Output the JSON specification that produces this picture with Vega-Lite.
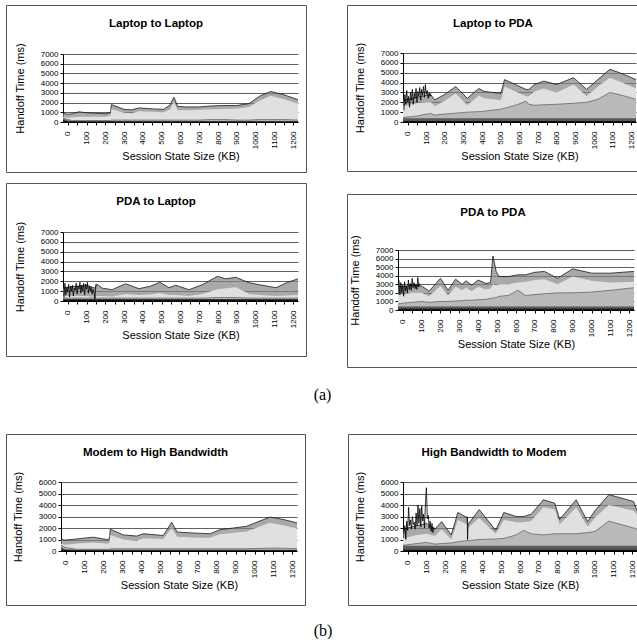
{
  "$schema": "https://vega.github.io/schema/vega-lite/v6.json",
  "padding": {"left": 5, "top": 4, "right": 0, "bottom": 0},
  "background": "white",
  "config": {
    "font": "Liberation Sans",
    "view": {"stroke": "#555", "strokeWidth": 1},
    "axis": {"labelFont": "Liberation Sans", "labelFontSize": 8, "labelColor": "#000", "titleFont": "Liberation Sans", "titleFontSize": 11, "titleFontWeight": "normal", "titleColor": "#000", "domainColor": "#000", "tickColor": "#000", "tickSize": 3, "labelPadding": 2, "gridColor": "#606060", "gridWidth": 1, "labelFlush": false, "labelOverlap": false},
    "axisX": {"labelAngle": 270, "labelPadding": 6, "titlePadding": 2, "grid": false},
    "axisY": {"titlePadding": 15, "grid": true},
    "title": {"font": "Liberation Sans", "fontSize": 11.5, "fontWeight": "bold", "color": "#000", "offset": -24, "baseline": "alphabetic", "anchor": "middle"}
  },
  "datasets": {
    "p1": [
      {"x": -25, "top": 900, "stip": 550, "cross": 450, "hatch": 350, "base": 150},
      {"x": 0, "top": 800, "stip": 450, "cross": 250, "hatch": 150, "base": 80},
      {"x": 25, "top": 850, "stip": 500, "cross": 150, "hatch": 100, "base": 60},
      {"x": 60, "top": 1050, "stip": 550, "cross": 150, "hatch": 100, "base": 60},
      {"x": 100, "top": 950, "stip": 550, "cross": 150, "hatch": 100, "base": 60},
      {"x": 150, "top": 900, "stip": 550, "cross": 150, "hatch": 100, "base": 60},
      {"x": 200, "top": 850, "stip": 550, "cross": 150, "hatch": 100, "base": 60},
      {"x": 228, "top": 950, "stip": 650, "cross": 150, "hatch": 100, "base": 60},
      {"x": 232, "top": 1800, "stip": 1350, "cross": 200, "hatch": 100, "base": 60},
      {"x": 300, "top": 1300, "stip": 950, "cross": 200, "hatch": 100, "base": 60},
      {"x": 340, "top": 1250, "stip": 900, "cross": 200, "hatch": 100, "base": 60},
      {"x": 380, "top": 1450, "stip": 1100, "cross": 200, "hatch": 100, "base": 60},
      {"x": 450, "top": 1350, "stip": 1050, "cross": 200, "hatch": 100, "base": 60},
      {"x": 510, "top": 1300, "stip": 1000, "cross": 200, "hatch": 100, "base": 60},
      {"x": 545, "top": 1750, "stip": 1300, "cross": 200, "hatch": 100, "base": 60},
      {"x": 565, "top": 2550, "stip": 2050, "cross": 200, "hatch": 100, "base": 60},
      {"x": 585, "top": 1600, "stip": 1200, "cross": 200, "hatch": 100, "base": 60},
      {"x": 630, "top": 1550, "stip": 1200, "cross": 200, "hatch": 100, "base": 60},
      {"x": 700, "top": 1550, "stip": 1250, "cross": 200, "hatch": 100, "base": 60},
      {"x": 760, "top": 1650, "stip": 1300, "cross": 250, "hatch": 100, "base": 60},
      {"x": 830, "top": 1700, "stip": 1350, "cross": 250, "hatch": 100, "base": 60},
      {"x": 900, "top": 1700, "stip": 1400, "cross": 200, "hatch": 100, "base": 60},
      {"x": 965, "top": 1900, "stip": 1550, "cross": 200, "hatch": 100, "base": 60},
      {"x": 1020, "top": 2650, "stip": 2200, "cross": 250, "hatch": 100, "base": 60},
      {"x": 1080, "top": 3150, "stip": 2700, "cross": 250, "hatch": 100, "base": 60},
      {"x": 1150, "top": 2800, "stip": 2350, "cross": 250, "hatch": 100, "base": 60},
      {"x": 1225, "top": 2300, "stip": 1900, "cross": 200, "hatch": 100, "base": 60}
    ],
    "p2": [
      {"x": -25, "top": 2200, "stip": 1600, "cross": 450, "hatch": 350, "base": 100},
      {"x": 0, "top": 2300, "stip": 1700, "cross": 500, "hatch": 380, "base": 100},
      {"x": 50, "top": 2500, "stip": 1900, "cross": 600, "hatch": 380, "base": 100},
      {"x": 100, "top": 2700, "stip": 2000, "cross": 800, "hatch": 380, "base": 100},
      {"x": 125, "top": 2750, "stip": 2000, "cross": 850, "hatch": 380, "base": 100},
      {"x": 145, "top": 2250, "stip": 1600, "cross": 700, "hatch": 380, "base": 100},
      {"x": 195, "top": 2750, "stip": 2100, "cross": 800, "hatch": 380, "base": 100},
      {"x": 258, "top": 3600, "stip": 2900, "cross": 900, "hatch": 380, "base": 100},
      {"x": 320, "top": 2400, "stip": 1700, "cross": 1000, "hatch": 380, "base": 100},
      {"x": 382, "top": 3400, "stip": 2700, "cross": 1050, "hatch": 380, "base": 100},
      {"x": 410, "top": 3100, "stip": 2400, "cross": 1100, "hatch": 380, "base": 100},
      {"x": 500, "top": 2900, "stip": 2200, "cross": 1300, "hatch": 380, "base": 100},
      {"x": 520, "top": 4300, "stip": 3600, "cross": 1400, "hatch": 380, "base": 100},
      {"x": 578, "top": 3800, "stip": 3100, "cross": 1700, "hatch": 380, "base": 100},
      {"x": 635, "top": 3300, "stip": 2600, "cross": 2100, "hatch": 380, "base": 100},
      {"x": 650, "top": 3300, "stip": 2600, "cross": 1800, "hatch": 380, "base": 100},
      {"x": 680, "top": 3800, "stip": 3100, "cross": 1700, "hatch": 380, "base": 100},
      {"x": 730, "top": 4150, "stip": 3400, "cross": 1750, "hatch": 380, "base": 100},
      {"x": 800, "top": 3800, "stip": 3000, "cross": 1800, "hatch": 380, "base": 100},
      {"x": 890, "top": 4500, "stip": 3800, "cross": 1900, "hatch": 380, "base": 100},
      {"x": 960, "top": 3300, "stip": 2600, "cross": 2000, "hatch": 380, "base": 100},
      {"x": 1020, "top": 4300, "stip": 3600, "cross": 2300, "hatch": 380, "base": 100},
      {"x": 1085, "top": 5350, "stip": 4500, "cross": 3000, "hatch": 380, "base": 100},
      {"x": 1150, "top": 4900, "stip": 4000, "cross": 2700, "hatch": 380, "base": 100},
      {"x": 1225, "top": 4300, "stip": 3400, "cross": 2300, "hatch": 380, "base": 100}
    ],
    "p3": [
      {"x": -25, "top": 1300, "stip": 500, "cross": 300, "hatch": 200, "base": 150},
      {"x": 0, "top": 1400, "stip": 500, "cross": 300, "hatch": 200, "base": 150},
      {"x": 50, "top": 1500, "stip": 500, "cross": 300, "hatch": 200, "base": 150},
      {"x": 100, "top": 1600, "stip": 500, "cross": 300, "hatch": 200, "base": 150},
      {"x": 145, "top": 1300, "stip": 400, "cross": 300, "hatch": 200, "base": 150},
      {"x": 155, "top": 1700, "stip": 500, "cross": 300, "hatch": 200, "base": 150},
      {"x": 185, "top": 1300, "stip": 500, "cross": 300, "hatch": 200, "base": 150},
      {"x": 236, "top": 1150, "stip": 450, "cross": 300, "hatch": 200, "base": 150},
      {"x": 308, "top": 1750, "stip": 700, "cross": 300, "hatch": 200, "base": 150},
      {"x": 379, "top": 1250, "stip": 600, "cross": 300, "hatch": 200, "base": 150},
      {"x": 440, "top": 1500, "stip": 650, "cross": 300, "hatch": 200, "base": 150},
      {"x": 490, "top": 1900, "stip": 800, "cross": 300, "hatch": 200, "base": 150},
      {"x": 539, "top": 1350, "stip": 600, "cross": 300, "hatch": 200, "base": 150},
      {"x": 574, "top": 1600, "stip": 600, "cross": 300, "hatch": 200, "base": 150},
      {"x": 645, "top": 1150, "stip": 500, "cross": 300, "hatch": 200, "base": 150},
      {"x": 716, "top": 1650, "stip": 700, "cross": 300, "hatch": 200, "base": 150},
      {"x": 796, "top": 2500, "stip": 1200, "cross": 350, "hatch": 200, "base": 150},
      {"x": 841, "top": 2250, "stip": 1300, "cross": 350, "hatch": 200, "base": 150},
      {"x": 894, "top": 2400, "stip": 1400, "cross": 350, "hatch": 200, "base": 150},
      {"x": 965, "top": 1850, "stip": 700, "cross": 300, "hatch": 200, "base": 150},
      {"x": 1019, "top": 1650, "stip": 600, "cross": 300, "hatch": 200, "base": 150},
      {"x": 1108, "top": 1350, "stip": 500, "cross": 300, "hatch": 200, "base": 150},
      {"x": 1170, "top": 1900, "stip": 550, "cross": 300, "hatch": 200, "base": 150},
      {"x": 1225, "top": 2250, "stip": 600, "cross": 300, "hatch": 200, "base": 150}
    ],
    "p4": [
      {"x": -25, "top": 2800, "stip": 1800, "cross": 700, "hatch": 400, "base": 150},
      {"x": 0, "top": 2700, "stip": 1800, "cross": 800, "hatch": 400, "base": 150},
      {"x": 50, "top": 2900, "stip": 2000, "cross": 900, "hatch": 400, "base": 150},
      {"x": 100, "top": 2800, "stip": 2000, "cross": 1000, "hatch": 400, "base": 150},
      {"x": 140, "top": 2200, "stip": 1600, "cross": 900, "hatch": 400, "base": 150},
      {"x": 200, "top": 3700, "stip": 2800, "cross": 1000, "hatch": 400, "base": 150},
      {"x": 240, "top": 2300, "stip": 1700, "cross": 1000, "hatch": 400, "base": 150},
      {"x": 280, "top": 3600, "stip": 2700, "cross": 1050, "hatch": 400, "base": 150},
      {"x": 315, "top": 3000, "stip": 2300, "cross": 1100, "hatch": 400, "base": 150},
      {"x": 335, "top": 3400, "stip": 2600, "cross": 1150, "hatch": 400, "base": 150},
      {"x": 365, "top": 2900, "stip": 2200, "cross": 1150, "hatch": 400, "base": 150},
      {"x": 400, "top": 3500, "stip": 2700, "cross": 1200, "hatch": 400, "base": 150},
      {"x": 440, "top": 3100, "stip": 2400, "cross": 1250, "hatch": 400, "base": 150},
      {"x": 465, "top": 3200, "stip": 2500, "cross": 1350, "hatch": 400, "base": 150},
      {"x": 478, "top": 6300, "stip": 3000, "cross": 1400, "hatch": 400, "base": 150},
      {"x": 495, "top": 4500, "stip": 2900, "cross": 1450, "hatch": 400, "base": 150},
      {"x": 510, "top": 3900, "stip": 3000, "cross": 1600, "hatch": 400, "base": 150},
      {"x": 560, "top": 3900, "stip": 3000, "cross": 1700, "hatch": 400, "base": 150},
      {"x": 610, "top": 4100, "stip": 3200, "cross": 2300, "hatch": 400, "base": 150},
      {"x": 650, "top": 4100, "stip": 3300, "cross": 1700, "hatch": 400, "base": 150},
      {"x": 700, "top": 4400, "stip": 3500, "cross": 1800, "hatch": 400, "base": 150},
      {"x": 750, "top": 4500, "stip": 3600, "cross": 1900, "hatch": 400, "base": 150},
      {"x": 820, "top": 3700, "stip": 3000, "cross": 2000, "hatch": 400, "base": 150},
      {"x": 900, "top": 4800, "stip": 3900, "cross": 2000, "hatch": 400, "base": 150},
      {"x": 1000, "top": 4300, "stip": 3400, "cross": 2100, "hatch": 400, "base": 150},
      {"x": 1100, "top": 4300, "stip": 3200, "cross": 2300, "hatch": 400, "base": 150},
      {"x": 1225, "top": 4500, "stip": 3300, "cross": 2600, "hatch": 400, "base": 150}
    ],
    "p5": [
      {"x": -25, "top": 1000, "stip": 600, "cross": 500, "hatch": 350, "base": 100},
      {"x": 0, "top": 950, "stip": 550, "cross": 300, "hatch": 150, "base": 80},
      {"x": 58, "top": 1050, "stip": 650, "cross": 150, "hatch": 100, "base": 60},
      {"x": 146, "top": 1200, "stip": 750, "cross": 150, "hatch": 100, "base": 60},
      {"x": 217, "top": 1000, "stip": 650, "cross": 150, "hatch": 100, "base": 60},
      {"x": 232, "top": 1050, "stip": 700, "cross": 150, "hatch": 100, "base": 60},
      {"x": 236, "top": 1900, "stip": 1400, "cross": 200, "hatch": 100, "base": 60},
      {"x": 305, "top": 1400, "stip": 1000, "cross": 200, "hatch": 100, "base": 60},
      {"x": 376, "top": 1300, "stip": 900, "cross": 200, "hatch": 100, "base": 60},
      {"x": 411, "top": 1500, "stip": 1100, "cross": 200, "hatch": 100, "base": 60},
      {"x": 517, "top": 1350, "stip": 1050, "cross": 200, "hatch": 100, "base": 60},
      {"x": 561, "top": 2500, "stip": 2000, "cross": 200, "hatch": 100, "base": 60},
      {"x": 590, "top": 1650, "stip": 1250, "cross": 200, "hatch": 100, "base": 60},
      {"x": 693, "top": 1550, "stip": 1150, "cross": 200, "hatch": 100, "base": 60},
      {"x": 764, "top": 1500, "stip": 1150, "cross": 200, "hatch": 100, "base": 60},
      {"x": 817, "top": 1850, "stip": 1450, "cross": 200, "hatch": 100, "base": 60},
      {"x": 958, "top": 2150, "stip": 1700, "cross": 200, "hatch": 100, "base": 60},
      {"x": 1082, "top": 2950, "stip": 2450, "cross": 250, "hatch": 100, "base": 60},
      {"x": 1150, "top": 2750, "stip": 2250, "cross": 250, "hatch": 100, "base": 60},
      {"x": 1225, "top": 2450, "stip": 1950, "cross": 200, "hatch": 100, "base": 60}
    ],
    "p6": [
      {"x": -25, "top": 1800, "stip": 1100, "cross": 500, "hatch": 450, "base": 100},
      {"x": 0, "top": 2000, "stip": 1200, "cross": 550, "hatch": 450, "base": 100},
      {"x": 50, "top": 2200, "stip": 1400, "cross": 650, "hatch": 450, "base": 100},
      {"x": 100, "top": 2400, "stip": 1500, "cross": 750, "hatch": 450, "base": 100},
      {"x": 146, "top": 1900, "stip": 1300, "cross": 600, "hatch": 450, "base": 100},
      {"x": 181, "top": 2550, "stip": 1900, "cross": 650, "hatch": 450, "base": 100},
      {"x": 233, "top": 1400, "stip": 1000, "cross": 700, "hatch": 450, "base": 100},
      {"x": 268, "top": 3350, "stip": 2700, "cross": 800, "hatch": 450, "base": 100},
      {"x": 318, "top": 2900, "stip": 2300, "cross": 900, "hatch": 450, "base": 100},
      {"x": 322, "top": 2300, "stip": 2000, "cross": 900, "hatch": 450, "base": 100},
      {"x": 382, "top": 3600, "stip": 2900, "cross": 1000, "hatch": 450, "base": 100},
      {"x": 470, "top": 1800, "stip": 1500, "cross": 1050, "hatch": 450, "base": 100},
      {"x": 514, "top": 3350, "stip": 2700, "cross": 1100, "hatch": 450, "base": 100},
      {"x": 580, "top": 3000, "stip": 2500, "cross": 1400, "hatch": 450, "base": 100},
      {"x": 620, "top": 3000, "stip": 2500, "cross": 1800, "hatch": 450, "base": 100},
      {"x": 660, "top": 3200, "stip": 2600, "cross": 1500, "hatch": 450, "base": 100},
      {"x": 725, "top": 4450, "stip": 3800, "cross": 1400, "hatch": 450, "base": 100},
      {"x": 786, "top": 4150, "stip": 3600, "cross": 1500, "hatch": 450, "base": 100},
      {"x": 812, "top": 2750, "stip": 2300, "cross": 1500, "hatch": 450, "base": 100},
      {"x": 900, "top": 4450, "stip": 3800, "cross": 1500, "hatch": 450, "base": 100},
      {"x": 961, "top": 2550, "stip": 2100, "cross": 1600, "hatch": 450, "base": 100},
      {"x": 1000, "top": 3500, "stip": 2900, "cross": 1700, "hatch": 450, "base": 100},
      {"x": 1075, "top": 4900, "stip": 4000, "cross": 2600, "hatch": 450, "base": 100},
      {"x": 1207, "top": 4300, "stip": 3500, "cross": 2000, "hatch": 450, "base": 100},
      {"x": 1225, "top": 3500, "stip": 3200, "cross": 1900, "hatch": 450, "base": 100}
    ],
    "n2": [
      {"x": -20, "v": 1200}, {"x": -15, "v": 2800}, {"x": -10, "v": 1800}, {"x": -5, "v": 3200}, {"x": 0, "v": 2000}, {"x": 5, "v": 2600}, {"x": 10, "v": 1500}, {"x": 15, "v": 3000}, {"x": 20, "v": 2200}, {"x": 25, "v": 3300}, {"x": 30, "v": 1800}, {"x": 35, "v": 2900}, {"x": 40, "v": 2400}, {"x": 45, "v": 3400}, {"x": 50, "v": 2000}, {"x": 55, "v": 3100}, {"x": 60, "v": 2600}, {"x": 65, "v": 3500}, {"x": 70, "v": 2200}, {"x": 75, "v": 3300}, {"x": 80, "v": 2700}, {"x": 85, "v": 3600}, {"x": 90, "v": 2500}, {"x": 95, "v": 3800}, {"x": 100, "v": 2800}, {"x": 105, "v": 3200}, {"x": 110, "v": 2400}, {"x": 115, "v": 3000}, {"x": 120, "v": 2600}, {"x": 125, "v": 2900}
    ],
    "n3": [
      {"x": -20, "v": 300}, {"x": -15, "v": 1800}, {"x": -10, "v": 600}, {"x": -5, "v": 1400}, {"x": 0, "v": 900}, {"x": 5, "v": 1700}, {"x": 10, "v": 400}, {"x": 15, "v": 1500}, {"x": 20, "v": 1000}, {"x": 25, "v": 1600}, {"x": 30, "v": 500}, {"x": 35, "v": 1300}, {"x": 40, "v": 1100}, {"x": 45, "v": 1800}, {"x": 50, "v": 700}, {"x": 55, "v": 1500}, {"x": 60, "v": 1200}, {"x": 65, "v": 1900}, {"x": 70, "v": 800}, {"x": 75, "v": 1600}, {"x": 80, "v": 1000}, {"x": 85, "v": 1800}, {"x": 90, "v": 600}, {"x": 95, "v": 1700}, {"x": 100, "v": 1200}, {"x": 105, "v": 1900}, {"x": 110, "v": 800}, {"x": 115, "v": 1500}, {"x": 120, "v": 1000}, {"x": 125, "v": 1400}, {"x": 130, "v": 700}, {"x": 135, "v": 1200}, {"x": 140, "v": 900}, {"x": 145, "v": 200}, {"x": 150, "v": 1700}
    ],
    "n4": [
      {"x": -20, "v": 3500}, {"x": -15, "v": 1800}, {"x": -10, "v": 3200}, {"x": -5, "v": 2000}, {"x": 0, "v": 2900}, {"x": 5, "v": 1600}, {"x": 10, "v": 3300}, {"x": 15, "v": 2200}, {"x": 20, "v": 2800}, {"x": 25, "v": 2000}, {"x": 30, "v": 3500}, {"x": 35, "v": 2400}, {"x": 40, "v": 3100}, {"x": 45, "v": 2300}, {"x": 50, "v": 3700}, {"x": 55, "v": 2600}, {"x": 60, "v": 3200}, {"x": 65, "v": 2500}, {"x": 70, "v": 3000}, {"x": 75, "v": 2400}, {"x": 80, "v": 3800}, {"x": 85, "v": 2700}, {"x": 90, "v": 3100}
    ],
    "n6": [
      {"g": 1, "x": -20, "v": 1500}, {"g": 1, "x": -15, "v": 2200}, {"g": 1, "x": -10, "v": 1000}, {"g": 1, "x": -5, "v": 2600}, {"g": 1, "x": 0, "v": 1800}, {"g": 1, "x": 5, "v": 3800}, {"g": 1, "x": 10, "v": 2200}, {"g": 1, "x": 15, "v": 2700}, {"g": 1, "x": 20, "v": 1900}, {"g": 1, "x": 25, "v": 3000}, {"g": 1, "x": 30, "v": 2300}, {"g": 1, "x": 35, "v": 2500}, {"g": 1, "x": 40, "v": 1900}, {"g": 1, "x": 45, "v": 3300}, {"g": 1, "x": 50, "v": 2200}, {"g": 1, "x": 55, "v": 4000}, {"g": 1, "x": 60, "v": 2400}, {"g": 1, "x": 65, "v": 3700}, {"g": 1, "x": 70, "v": 2100}, {"g": 1, "x": 75, "v": 3900}, {"g": 1, "x": 80, "v": 2600}, {"g": 1, "x": 85, "v": 3200}, {"g": 1, "x": 90, "v": 2000}, {"g": 1, "x": 95, "v": 4200}, {"g": 1, "x": 100, "v": 5500}, {"g": 1, "x": 105, "v": 2800}, {"g": 1, "x": 110, "v": 3100}, {"g": 1, "x": 115, "v": 2000}, {"g": 1, "x": 120, "v": 2600}, {"g": 1, "x": 125, "v": 1700}, {"g": 1, "x": 130, "v": 2400}, {"g": 1, "x": 135, "v": 1600}, {"g": 1, "x": 140, "v": 2100},
      {"g": 2, "x": 318, "v": 3000}, {"g": 2, "x": 320, "v": 1000}, {"g": 2, "x": 322, "v": 2300}
    ]
  },
  "vconcat": [
    {
      "title": {"text": "(a)", "orient": "bottom", "offset": 19, "font": "Liberation Serif", "fontSize": 16, "fontWeight": "normal", "baseline": "top", "anchor": "middle"},
      "hconcat": [
        {
          "spacing": 9,
          "vconcat": [
            {
              "width": 300, "height": 167,
              "title": {"text": "Laptop to Laptop"},
              "data": {"name": "p1"},
              "encoding": {"x": {"field": "x", "type": "quantitative", "scale": {"domain": [-25, 1225], "range": [57, 292], "nice": false, "zero": false}, "axis": {"offset": -50, "format": "d", "values": [0, 50, 100, 150, 200, 250, 300, 350, 400, 450, 500, 550, 600, 650, 700, 750, 800, 850, 900, 950, 1000, 1050, 1100, 1150, 1200], "labelExpr": "datum.value % 100 === 0 ? datum.label : ''", "title": "Session State Size (KB)"}}},
              "layer": [
                {"mark": {"type": "area", "color": "#858585", "line": {"color": "#1a1a1a", "strokeWidth": 0.8}}, "encoding": {"y": {"field": "top", "type": "quantitative", "scale": {"domain": [0, 7000], "range": [117, 49], "nice": false}, "axis": {"offset": -57, "format": "d", "values": [0, 1000, 2000, 3000, 4000, 5000, 6000, 7000], "title": "Handoff Time (ms)"}}}},
                {"mark": {"type": "area", "color": "#e0e0e0"}, "encoding": {"y": {"field": "stip", "type": "quantitative", "scale": {"domain": [0, 7000], "range": [117, 49], "nice": false}, "axis": {"offset": -57, "format": "d", "values": [0, 1000, 2000, 3000, 4000, 5000, 6000, 7000], "title": "Handoff Time (ms)"}}}},
                {"mark": {"type": "area", "color": "#a8a8a8", "line": {"color": "#444", "strokeWidth": 0.6}}, "encoding": {"y": {"field": "cross", "type": "quantitative", "scale": {"domain": [0, 7000], "range": [117, 49], "nice": false}, "axis": {"offset": -57, "format": "d", "values": [0, 1000, 2000, 3000, 4000, 5000, 6000, 7000], "title": "Handoff Time (ms)"}}}},
                {"mark": {"type": "area", "color": "#5a5a5a"}, "encoding": {"y": {"field": "hatch", "type": "quantitative", "scale": {"domain": [0, 7000], "range": [117, 49], "nice": false}, "axis": {"offset": -57, "format": "d", "values": [0, 1000, 2000, 3000, 4000, 5000, 6000, 7000], "title": "Handoff Time (ms)"}}}},
                {"mark": {"type": "area", "color": "#111"}, "encoding": {"y": {"field": "base", "type": "quantitative", "scale": {"domain": [0, 7000], "range": [117, 49], "nice": false}, "axis": {"offset": -57, "format": "d", "values": [0, 1000, 2000, 3000, 4000, 5000, 6000, 7000], "title": "Handoff Time (ms)"}}}}
              ]
            },
            {
              "width": 300, "height": 173,
              "title": {"text": "PDA to Laptop"},
              "encoding": {"x": {"field": "x", "type": "quantitative", "scale": {"domain": [-25, 1225], "range": [57, 292], "nice": false, "zero": false}, "axis": {"offset": -55, "format": "d", "values": [0, 50, 100, 150, 200, 250, 300, 350, 400, 450, 500, 550, 600, 650, 700, 750, 800, 850, 900, 950, 1000, 1050, 1100, 1150, 1200], "labelExpr": "datum.value % 100 === 0 ? datum.label : ''", "title": "Session State Size (KB)"}}},
              "layer": [
                {"data": {"name": "p3"}, "mark": {"type": "area", "color": "#858585", "line": {"color": "#1a1a1a", "strokeWidth": 0.8}}, "encoding": {"y": {"field": "top", "type": "quantitative", "scale": {"domain": [0, 7000], "range": [118, 49], "nice": false}, "axis": {"offset": -57, "format": "d", "values": [0, 1000, 2000, 3000, 4000, 5000, 6000, 7000], "title": "Handoff Time (ms)"}}}},
                {"data": {"name": "p3"}, "mark": {"type": "area", "color": "#e0e0e0"}, "encoding": {"y": {"field": "stip", "type": "quantitative", "scale": {"domain": [0, 7000], "range": [118, 49], "nice": false}, "axis": {"offset": -57, "format": "d", "values": [0, 1000, 2000, 3000, 4000, 5000, 6000, 7000], "title": "Handoff Time (ms)"}}}},
                {"data": {"name": "p3"}, "mark": {"type": "area", "color": "#a8a8a8", "line": {"color": "#444", "strokeWidth": 0.6}}, "encoding": {"y": {"field": "cross", "type": "quantitative", "scale": {"domain": [0, 7000], "range": [118, 49], "nice": false}, "axis": {"offset": -57, "format": "d", "values": [0, 1000, 2000, 3000, 4000, 5000, 6000, 7000], "title": "Handoff Time (ms)"}}}},
                {"data": {"name": "p3"}, "mark": {"type": "area", "color": "#5a5a5a"}, "encoding": {"y": {"field": "hatch", "type": "quantitative", "scale": {"domain": [0, 7000], "range": [118, 49], "nice": false}, "axis": {"offset": -57, "format": "d", "values": [0, 1000, 2000, 3000, 4000, 5000, 6000, 7000], "title": "Handoff Time (ms)"}}}},
                {"data": {"name": "p3"}, "mark": {"type": "area", "color": "#111"}, "encoding": {"y": {"field": "base", "type": "quantitative", "scale": {"domain": [0, 7000], "range": [118, 49], "nice": false}, "axis": {"offset": -57, "format": "d", "values": [0, 1000, 2000, 3000, 4000, 5000, 6000, 7000], "title": "Handoff Time (ms)"}}}},
                {"data": {"name": "n3"}, "mark": {"type": "line", "color": "#000", "strokeWidth": 0.8}, "encoding": {"y": {"field": "v", "type": "quantitative", "scale": {"domain": [0, 7000], "range": [118, 49], "nice": false}, "axis": {"offset": -57, "format": "d", "values": [0, 1000, 2000, 3000, 4000, 5000, 6000, 7000], "title": "Handoff Time (ms)"}}}}
              ]
            }
          ]
        },
        {
          "spacing": 21,
          "vconcat": [
            {
              "width": 292, "height": 166,
              "title": {"text": "Laptop to PDA"},
              "encoding": {"x": {"field": "x", "type": "quantitative", "scale": {"domain": [-25, 1225], "range": [56, 289], "nice": false, "zero": false}, "axis": {"offset": -49, "format": "d", "values": [0, 50, 100, 150, 200, 250, 300, 350, 400, 450, 500, 550, 600, 650, 700, 750, 800, 850, 900, 950, 1000, 1050, 1100, 1150, 1200], "labelExpr": "datum.value % 100 === 0 ? datum.label : ''", "title": "Session State Size (KB)"}}},
              "layer": [
                {"data": {"name": "p2"}, "mark": {"type": "area", "color": "#858585", "line": {"color": "#1a1a1a", "strokeWidth": 0.8}}, "encoding": {"y": {"field": "top", "type": "quantitative", "scale": {"domain": [0, 7000], "range": [117, 48], "nice": false}, "axis": {"offset": -56, "format": "d", "values": [0, 1000, 2000, 3000, 4000, 5000, 6000, 7000], "title": "Handoff Time (ms)"}}}},
                {"data": {"name": "p2"}, "mark": {"type": "area", "color": "#e0e0e0"}, "encoding": {"y": {"field": "stip", "type": "quantitative", "scale": {"domain": [0, 7000], "range": [117, 48], "nice": false}, "axis": {"offset": -56, "format": "d", "values": [0, 1000, 2000, 3000, 4000, 5000, 6000, 7000], "title": "Handoff Time (ms)"}}}},
                {"data": {"name": "p2"}, "mark": {"type": "area", "color": "#a8a8a8", "line": {"color": "#444", "strokeWidth": 0.6}}, "encoding": {"y": {"field": "cross", "type": "quantitative", "scale": {"domain": [0, 7000], "range": [117, 48], "nice": false}, "axis": {"offset": -56, "format": "d", "values": [0, 1000, 2000, 3000, 4000, 5000, 6000, 7000], "title": "Handoff Time (ms)"}}}},
                {"data": {"name": "p2"}, "mark": {"type": "area", "color": "#5a5a5a"}, "encoding": {"y": {"field": "hatch", "type": "quantitative", "scale": {"domain": [0, 7000], "range": [117, 48], "nice": false}, "axis": {"offset": -56, "format": "d", "values": [0, 1000, 2000, 3000, 4000, 5000, 6000, 7000], "title": "Handoff Time (ms)"}}}},
                {"data": {"name": "p2"}, "mark": {"type": "area", "color": "#111"}, "encoding": {"y": {"field": "base", "type": "quantitative", "scale": {"domain": [0, 7000], "range": [117, 48], "nice": false}, "axis": {"offset": -56, "format": "d", "values": [0, 1000, 2000, 3000, 4000, 5000, 6000, 7000], "title": "Handoff Time (ms)"}}}},
                {"data": {"name": "n2"}, "mark": {"type": "line", "color": "#000", "strokeWidth": 0.8}, "encoding": {"y": {"field": "v", "type": "quantitative", "scale": {"domain": [0, 7000], "range": [117, 48], "nice": false}, "axis": {"offset": -56, "format": "d", "values": [0, 1000, 2000, 3000, 4000, 5000, 6000, 7000], "title": "Handoff Time (ms)"}}}}
              ]
            },
            {
              "width": 292, "height": 173,
              "title": {"text": "PDA to PDA"},
              "encoding": {"x": {"field": "x", "type": "quantitative", "scale": {"domain": [-25, 1225], "range": [51, 287], "nice": false, "zero": false}, "axis": {"offset": -57, "format": "d", "values": [0, 50, 100, 150, 200, 250, 300, 350, 400, 450, 500, 550, 600, 650, 700, 750, 800, 850, 900, 950, 1000, 1050, 1100, 1150, 1200], "labelExpr": "datum.value % 100 === 0 ? datum.label : ''", "title": "Session State Size (KB)"}}},
              "layer": [
                {"data": {"name": "p4"}, "mark": {"type": "area", "color": "#858585", "line": {"color": "#1a1a1a", "strokeWidth": 0.8}}, "encoding": {"y": {"field": "top", "type": "quantitative", "scale": {"domain": [0, 7000], "range": [116, 56], "nice": false}, "axis": {"offset": -51, "format": "d", "values": [0, 1000, 2000, 3000, 4000, 5000, 6000, 7000], "title": "Handoff Time (ms)"}}}},
                {"data": {"name": "p4"}, "mark": {"type": "area", "color": "#e0e0e0"}, "encoding": {"y": {"field": "stip", "type": "quantitative", "scale": {"domain": [0, 7000], "range": [116, 56], "nice": false}, "axis": {"offset": -51, "format": "d", "values": [0, 1000, 2000, 3000, 4000, 5000, 6000, 7000], "title": "Handoff Time (ms)"}}}},
                {"data": {"name": "p4"}, "mark": {"type": "area", "color": "#a8a8a8", "line": {"color": "#444", "strokeWidth": 0.6}}, "encoding": {"y": {"field": "cross", "type": "quantitative", "scale": {"domain": [0, 7000], "range": [116, 56], "nice": false}, "axis": {"offset": -51, "format": "d", "values": [0, 1000, 2000, 3000, 4000, 5000, 6000, 7000], "title": "Handoff Time (ms)"}}}},
                {"data": {"name": "p4"}, "mark": {"type": "area", "color": "#5a5a5a"}, "encoding": {"y": {"field": "hatch", "type": "quantitative", "scale": {"domain": [0, 7000], "range": [116, 56], "nice": false}, "axis": {"offset": -51, "format": "d", "values": [0, 1000, 2000, 3000, 4000, 5000, 6000, 7000], "title": "Handoff Time (ms)"}}}},
                {"data": {"name": "p4"}, "mark": {"type": "area", "color": "#111"}, "encoding": {"y": {"field": "base", "type": "quantitative", "scale": {"domain": [0, 7000], "range": [116, 56], "nice": false}, "axis": {"offset": -51, "format": "d", "values": [0, 1000, 2000, 3000, 4000, 5000, 6000, 7000], "title": "Handoff Time (ms)"}}}},
                {"data": {"name": "n4"}, "mark": {"type": "line", "color": "#000", "strokeWidth": 0.8}, "encoding": {"y": {"field": "v", "type": "quantitative", "scale": {"domain": [0, 7000], "range": [116, 56], "nice": false}, "axis": {"offset": -51, "format": "d", "values": [0, 1000, 2000, 3000, 4000, 5000, 6000, 7000], "title": "Handoff Time (ms)"}}}}
              ]
            }
          ]
        }
      ],
      "spacing": 39
    },
    {
      "title": {"text": "(b)", "orient": "bottom", "offset": 17, "font": "Liberation Serif", "fontSize": 16, "fontWeight": "normal", "baseline": "top", "anchor": "middle"},
      "spacing": 41,
      "hconcat": [
        {
          "width": 299, "height": 171,
          "title": {"text": "Modem to High Bandwidth"},
          "data": {"name": "p5"},
          "encoding": {"x": {"field": "x", "type": "quantitative", "scale": {"domain": [-25, 1225], "range": [55, 291], "nice": false, "zero": false}, "axis": {"offset": -54, "format": "d", "values": [0, 50, 100, 150, 200, 250, 300, 350, 400, 450, 500, 550, 600, 650, 700, 750, 800, 850, 900, 950, 1000, 1050, 1100, 1150, 1200], "labelExpr": "datum.value % 100 === 0 ? datum.label : ''", "title": "Session State Size (KB)"}}},
          "layer": [
            {"mark": {"type": "area", "color": "#858585", "line": {"color": "#1a1a1a", "strokeWidth": 0.8}}, "encoding": {"y": {"field": "top", "type": "quantitative", "scale": {"domain": [0, 6000], "range": [117, 48], "nice": false}, "axis": {"offset": -55, "format": "d", "values": [0, 1000, 2000, 3000, 4000, 5000, 6000], "title": "Handoff Time (ms)"}}}},
            {"mark": {"type": "area", "color": "#e0e0e0"}, "encoding": {"y": {"field": "stip", "type": "quantitative", "scale": {"domain": [0, 6000], "range": [117, 48], "nice": false}, "axis": {"offset": -55, "format": "d", "values": [0, 1000, 2000, 3000, 4000, 5000, 6000], "title": "Handoff Time (ms)"}}}},
            {"mark": {"type": "area", "color": "#a8a8a8", "line": {"color": "#444", "strokeWidth": 0.6}}, "encoding": {"y": {"field": "cross", "type": "quantitative", "scale": {"domain": [0, 6000], "range": [117, 48], "nice": false}, "axis": {"offset": -55, "format": "d", "values": [0, 1000, 2000, 3000, 4000, 5000, 6000], "title": "Handoff Time (ms)"}}}},
            {"mark": {"type": "area", "color": "#5a5a5a"}, "encoding": {"y": {"field": "hatch", "type": "quantitative", "scale": {"domain": [0, 6000], "range": [117, 48], "nice": false}, "axis": {"offset": -55, "format": "d", "values": [0, 1000, 2000, 3000, 4000, 5000, 6000], "title": "Handoff Time (ms)"}}}},
            {"mark": {"type": "area", "color": "#111"}, "encoding": {"y": {"field": "base", "type": "quantitative", "scale": {"domain": [0, 6000], "range": [117, 48], "nice": false}, "axis": {"offset": -55, "format": "d", "values": [0, 1000, 2000, 3000, 4000, 5000, 6000], "title": "Handoff Time (ms)"}}}}
          ]
        },
        {
          "width": 292, "height": 171,
          "title": {"text": "High Bandwidth to Modem"},
          "encoding": {"x": {"field": "x", "type": "quantitative", "scale": {"domain": [-25, 1225], "range": [55, 289], "nice": false, "zero": false}, "axis": {"offset": -54, "format": "d", "values": [0, 50, 100, 150, 200, 250, 300, 350, 400, 450, 500, 550, 600, 650, 700, 750, 800, 850, 900, 950, 1000, 1050, 1100, 1150, 1200], "labelExpr": "datum.value % 100 === 0 ? datum.label : ''", "title": "Session State Size (KB)"}}},
          "layer": [
            {"data": {"name": "p6"}, "mark": {"type": "area", "color": "#858585", "line": {"color": "#1a1a1a", "strokeWidth": 0.8}}, "encoding": {"y": {"field": "top", "type": "quantitative", "scale": {"domain": [0, 6000], "range": [117, 48], "nice": false}, "axis": {"offset": -55, "format": "d", "values": [0, 1000, 2000, 3000, 4000, 5000, 6000], "title": "Handoff Time (ms)"}}}},
            {"data": {"name": "p6"}, "mark": {"type": "area", "color": "#e0e0e0"}, "encoding": {"y": {"field": "stip", "type": "quantitative", "scale": {"domain": [0, 6000], "range": [117, 48], "nice": false}, "axis": {"offset": -55, "format": "d", "values": [0, 1000, 2000, 3000, 4000, 5000, 6000], "title": "Handoff Time (ms)"}}}},
            {"data": {"name": "p6"}, "mark": {"type": "area", "color": "#a8a8a8", "line": {"color": "#444", "strokeWidth": 0.6}}, "encoding": {"y": {"field": "cross", "type": "quantitative", "scale": {"domain": [0, 6000], "range": [117, 48], "nice": false}, "axis": {"offset": -55, "format": "d", "values": [0, 1000, 2000, 3000, 4000, 5000, 6000], "title": "Handoff Time (ms)"}}}},
            {"data": {"name": "p6"}, "mark": {"type": "area", "color": "#5a5a5a"}, "encoding": {"y": {"field": "hatch", "type": "quantitative", "scale": {"domain": [0, 6000], "range": [117, 48], "nice": false}, "axis": {"offset": -55, "format": "d", "values": [0, 1000, 2000, 3000, 4000, 5000, 6000], "title": "Handoff Time (ms)"}}}},
            {"data": {"name": "p6"}, "mark": {"type": "area", "color": "#111"}, "encoding": {"y": {"field": "base", "type": "quantitative", "scale": {"domain": [0, 6000], "range": [117, 48], "nice": false}, "axis": {"offset": -55, "format": "d", "values": [0, 1000, 2000, 3000, 4000, 5000, 6000], "title": "Handoff Time (ms)"}}}},
            {"data": {"name": "n6"}, "mark": {"type": "line", "color": "#000", "strokeWidth": 0.8}, "encoding": {"detail": {"field": "g", "type": "nominal"}, "y": {"field": "v", "type": "quantitative", "scale": {"domain": [0, 6000], "range": [117, 48], "nice": false}, "axis": {"offset": -55, "format": "d", "values": [0, 1000, 2000, 3000, 4000, 5000, 6000], "title": "Handoff Time (ms)"}}}}
          ]
        }
      ]
    }
  ],
  "spacing": 30
}
